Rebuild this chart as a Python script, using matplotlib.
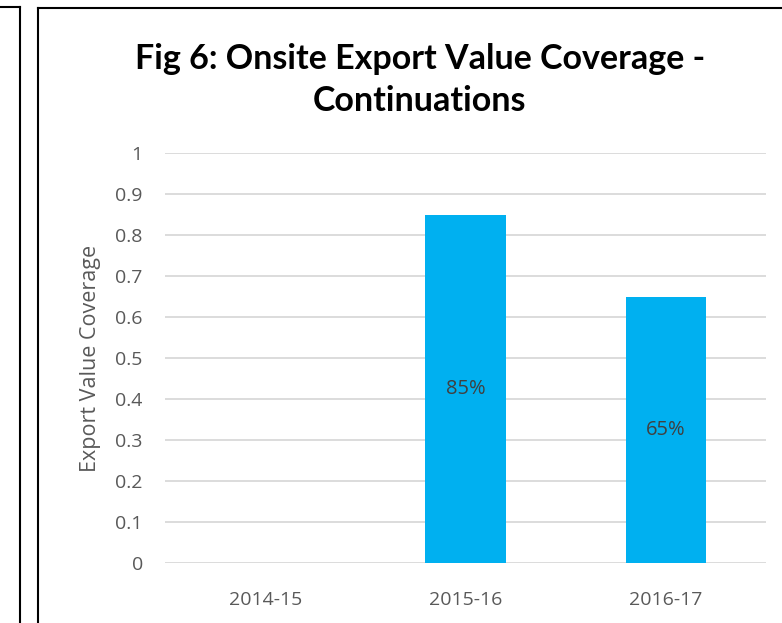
import matplotlib.pyplot as plt
from matplotlib.lines import Line2D

years = ['2014-15', '2015-16', '2016-17']
coverage = [0, 0.85, 0.65]
bar_labels = ['', '85%', '65%']
yticks = [0, 0.1, 0.2, 0.3, 0.4, 0.5, 0.6, 0.7, 0.8, 0.9, 1]

W, H = 782, 623
fig = plt.figure(figsize=(W / 100, H / 100), dpi=100)
ax = fig.add_axes([165 / W, 1 - 563 / H, (766 - 165) / W, (563 - 153) / H])

grey = '#595959'
x = range(len(years))
bars = ax.bar(x, coverage, width=0.4, color='#00B0F0', zorder=3)
for b, lab in zip(bars, bar_labels):
    if lab:
        ax.text(b.get_x() + b.get_width() / 2, b.get_height() / 2, lab,
                ha='center', va='center', fontsize=14.5, color='#404040',
                family='Open Sans', zorder=4)

ax.set_xlim(-0.5, 2.5)
ax.set_ylim(0, 1)
ax.set_yticks(yticks)
ax.set_yticklabels([f'{t:g}' for t in yticks])
ax.set_xticks(list(x))
ax.set_xticklabels(years)
ax.grid(axis='y', color='#D9D9D9', linewidth=1.3, zorder=0)
ax.tick_params(length=0, labelsize=14, labelcolor=grey)
ax.tick_params(axis='y', pad=16)
ax.tick_params(axis='x', pad=20)
for lbl in ax.get_xticklabels() + ax.get_yticklabels():
    lbl.set_family('Open Sans')
for s in ax.spines.values():
    s.set_visible(False)

ax.set_ylabel('Export Value Coverage', fontsize=15.5, color=grey,
              family='Open Sans', labelpad=10)

fig.text(420 / W, 1 - 80 / H, 'Fig 6: Onsite Export Value Coverage -\nContinuations',
         ha='center', va='center', fontsize=24.5, fontweight='bold',
         family='Lato', linespacing=1.35)

# chart borders
lw = 1.5
fig.add_artist(Line2D([0, 20 / W], [1 - 7 / H] * 2, color='black', lw=lw))
fig.add_artist(Line2D([20 / W] * 2, [0, 1 - 7 / H], color='black', lw=lw))
fig.add_artist(Line2D([38 / W, 1], [1 - 8 / H] * 2, color='black', lw=lw))
fig.add_artist(Line2D([38 / W] * 2, [0, 1 - 8 / H], color='black', lw=lw))

fig.savefig('out.png', dpi=100)
